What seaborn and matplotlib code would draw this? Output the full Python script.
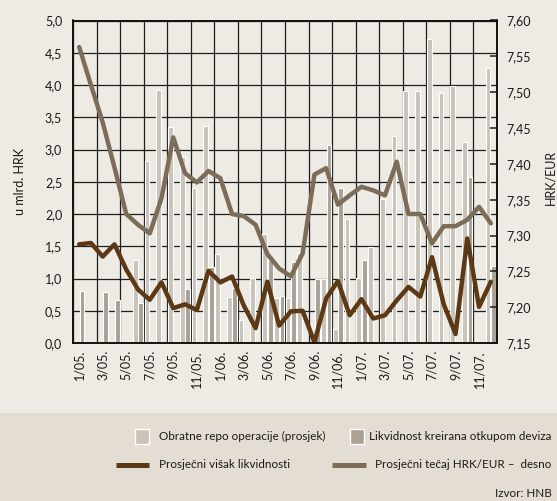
import numpy as np
import pandas as pd
import matplotlib
matplotlib.use("Agg")
import matplotlib.pyplot as plt
import seaborn as sns
from matplotlib.patches import Rectangle
from matplotlib.lines import Line2D
from matplotlib.ticker import FuncFormatter, FixedLocator

# ---------------- data ----------------
months = [f"{m}/{y}" for y in ("05", "06", "07") for m in range(1, 13)]
tick_labels = ["1/05.", "3/05.", "5/05.", "7/05.", "9/05.", "11/05.",
               "1/06.", "3/06.", "5/06.", "7/06.", "9/06.", "11/06.",
               "1/07.", "3/07.", "5/07.", "7/07.", "9/07.", "11/07."]

# Obratne repo operacije (prosjek), mlrd. HRK
repo = [0, 0, 0, 0, 0, 1.28, 2.82, 3.92, 3.35, 2.89, 2.41, 3.37,
        1.38, 0.71, 0.36, 1.01, 1.69, 0.69, 0.69, 1.40, 0, 0.99, 0.21, 1.92,
        1.01, 1.49, 2.23, 3.21, 3.91, 3.91, 4.72, 3.87, 3.98, 3.11, 0, 4.27]
# Likvidnost kreirana otkupom deviza, mlrd. HRK
fx = [0.81, 0, 0.79, 0.67, 0, 0.62, 0, 0, 0, 0.83, 0, 1.18,
      0, 0.86, 0, 0, 1.28, 0.73, 1.26, 0, 0.99, 3.07, 2.41, 0,
      1.28, 0, 0, 0, 0, 0, 0, 0, 0, 2.57, 0, 1.20]
# Prosječni višak likvidnosti, mlrd. HRK
excess = [1.53, 1.55, 1.34, 1.53, 1.14, 0.83, 0.67, 0.94, 0.54, 0.60, 0.51, 1.12,
          0.94, 1.03, 0.58, 0.23, 0.95, 0.27, 0.49, 0.50, 0.01, 0.69, 0.96, 0.43,
          0.68, 0.38, 0.43, 0.66, 0.87, 0.72, 1.33, 0.60, 0.14, 1.62, 0.56, 0.95]
# Prosječni tečaj HRK/EUR (desno)
rate = [7.563, 7.510, 7.458, 7.395, 7.330, 7.315, 7.303, 7.352, 7.437, 7.387, 7.374, 7.390,
        7.380, 7.330, 7.327, 7.315, 7.274, 7.254, 7.243, 7.275, 7.385, 7.394, 7.343, 7.356,
        7.368, 7.363, 7.356, 7.403, 7.330, 7.330, 7.289, 7.313, 7.313, 7.322, 7.340, 7.317]

series_names = ["Obratne repo operacije (prosjek)", "Likvidnost kreirana otkupom deviza"]
line_names = ["Prosječni višak likvidnosti", "Prosječni tečaj HRK/EUR –  desno"]

# ---------------- style ----------------
BG = "#eeebe5"
BAND = "#e3ddd3"
LIGHT = "#cbc3b7"
DARK = "#aca192"
BROWN = "#5c3814"
GREY = "#7b6d58"
GRID = "#1e1e1e"
TXT = "#1a1a1a"

sns.set_theme(style="white")
plt.rcParams["font.family"] = ["Lato", "DejaVu Sans"]
FS = 9
LFS = 8.4

W, H = 557, 501
fig = plt.figure(figsize=(W / 100, H / 100), dpi=100, facecolor=BG)


def fx_(x):
    return x / W


def fy_(y):
    return 1 - y / H


fig.add_artist(Rectangle((0, 0), 1, fy_(413), transform=fig.transFigure,
                         facecolor=BAND, edgecolor="none", zorder=0))

x0, x1, y0, y1 = 73.3, 496.7, 20.5, 343.0
ax = fig.add_axes([fx_(x0), fy_(y1), (x1 - x0) / W, (y1 - y0) / H])
ax.set_facecolor(BG)

df = pd.DataFrame({
    "mjesec": months * 2,
    "serija": [series_names[0]] * len(months) + [series_names[1]] * len(months),
    "vrijednost": repo + fx,
})
df["vrijednost"] = df["vrijednost"].replace(0, np.nan)

sns.barplot(data=df, x="mjesec", y="vrijednost", hue="serija", order=months,
            hue_order=series_names, palette={series_names[0]: LIGHT, series_names[1]: DARK},
            width=0.95, gap=0.15, edgecolor="white", linewidth=0.8,
            errorbar=None, legend=False, ax=ax, zorder=2)

xs = np.arange(len(months))
sns.lineplot(x=xs, y=excess, ax=ax, color=BROWN, linewidth=3.2, zorder=5)

ax.set_xlim(-0.5, len(months) - 0.5)
ax.set_ylim(0, 5)
ax.set_xlabel("")
ax.set_ylabel("")

ax.set_axisbelow(True)
ax.yaxis.set_major_locator(FixedLocator(np.arange(0, 5.01, 0.5)))
ax.yaxis.set_major_formatter(FuncFormatter(lambda v, p: f"{v:.1f}".replace(".", ",")))
ax.set_xticks(xs[::2])
ax.set_xticklabels(tick_labels, rotation=90, fontsize=FS)
ax.set_xticks(np.arange(-0.5, len(months), 2), minor=True)
ax.grid(axis="y", which="major", color=GRID, linewidth=0.9)
ax.grid(axis="x", which="minor", color=GRID, linewidth=0.9)
ax.tick_params(axis="x", which="both", length=0, pad=5, colors=TXT)
ax.tick_params(axis="y", length=0, pad=8, labelsize=FS, colors=TXT)
for s in ax.spines.values():
    s.set_color("#111111")
    s.set_linewidth(1.2)

ax2 = ax.twinx()
sns.lineplot(x=xs, y=rate, ax=ax2, color=GREY, linewidth=3.2, zorder=5)
ax2.set_ylim(7.15, 7.60)
ax2.set_xlim(-0.5, len(months) - 0.5)
ax2.grid(False)
ax2.set_ylabel("")
ax2.yaxis.set_major_locator(FixedLocator([7.15, 7.20, 7.25, 7.30, 7.35, 7.40, 7.45, 7.50, 7.55, 7.60]))
ax2.yaxis.set_major_formatter(FuncFormatter(lambda v, p: f"{v:.2f}".replace(".", ",")))
ax2.tick_params(axis="y", direction="in", length=5, width=1.1, pad=7,
                labelsize=FS, colors=TXT)
for s in ax2.spines.values():
    s.set_color("#111111")
    s.set_linewidth(1.2)

# axis titles
fig.text(fx_(20), fy_(181.5), "u mlrd. HRK", rotation=90, ha="center", va="center",
         fontsize=FS, color=TXT)
fig.text(fx_(550), fy_(177.5), "HRK/EUR", rotation=90, ha="center", va="center",
         fontsize=FS, color=TXT)

# legend
r1, r2, r3 = 436, 464.5, 493.5
for (xl, col) in [(135, LIGHT), (350, DARK)]:
    fig.add_artist(Rectangle((fx_(xl), fy_(r1 + 7.5)), 14 / W, 15 / H,
                             transform=fig.transFigure, facecolor=col,
                             edgecolor="white", linewidth=1.0, zorder=3))
fig.text(fx_(158.8), fy_(r1), series_names[0], ha="left", va="center", fontsize=LFS, color=TXT)
fig.text(fx_(369), fy_(r1), series_names[1], ha="left", va="center", fontsize=LFS, color=TXT)
for (xa, xb, col) in [(115.5, 148.5, BROWN), (332, 366, GREY)]:
    fig.add_artist(Line2D([fx_(xa), fx_(xb)], [fy_(r2), fy_(r2)], transform=fig.transFigure,
                          color=col, linewidth=3.6, solid_capstyle="butt", zorder=3))
fig.text(fx_(158.8), fy_(r2), line_names[0], ha="left", va="center", fontsize=LFS, color=TXT)
fig.text(fx_(375), fy_(r2), line_names[1], ha="left", va="center", fontsize=LFS, color=TXT)
fig.text(fx_(552), fy_(r3), "Izvor: HNB", ha="right", va="center", fontsize=LFS, color=TXT)

fig.savefig("out.png", dpi=100, facecolor=BG)
